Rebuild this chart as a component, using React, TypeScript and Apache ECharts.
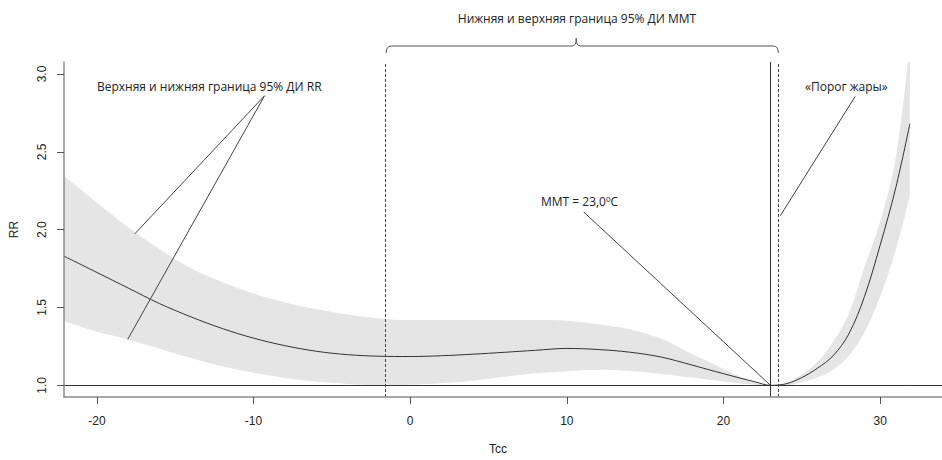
import React, { useEffect, useRef } from "react";
import * as echarts from "echarts";

const temps = [-22.1, -20, -18, -16, -14, -12, -10, -8, -6, -4, -2, 0, 2, 4, 6, 8, 10, 12, 14, 16, 18, 19, 20, 21, 22, 23, 24, 25, 26, 27, 28, 29, 30, 31, 31.9];
const rrValues = [1.83, 1.725, 1.625, 1.525, 1.44, 1.365, 1.303, 1.255, 1.219, 1.197, 1.187, 1.185, 1.19, 1.2, 1.212, 1.225, 1.237, 1.23, 1.213, 1.182, 1.13, 1.102, 1.075, 1.048, 1.023, 1.0, 1.01, 1.05, 1.11, 1.19, 1.33, 1.57, 1.9, 2.27, 2.68];
const rrUpper = [2.345, 2.175, 2.015, 1.875, 1.752, 1.663, 1.59, 1.534, 1.49, 1.455, 1.43, 1.42, 1.42, 1.42, 1.42, 1.42, 1.415, 1.392, 1.36, 1.3, 1.2, 1.155, 1.105, 1.058, 1.02, 1.0, 1.015, 1.07, 1.15, 1.28, 1.46, 1.76, 2.05, 2.46, 3.2];
const rrLower = [1.413, 1.345, 1.294, 1.235, 1.175, 1.123, 1.081, 1.047, 1.024, 1.009, 1.001, 1.004, 1.013, 1.03, 1.055, 1.077, 1.09, 1.1, 1.092, 1.073, 1.05, 1.038, 1.025, 1.013, 1.004, 1.0, 1.0, 1.02, 1.05, 1.1, 1.19, 1.34, 1.57, 1.87, 2.22];
const xTickValues = [-20, -10, 0, 10, 20, 30];
const yTickValues = [1.0, 1.5, 2.0, 2.5, 3.0];
const mmtValue = 23.0;
const mmtLowBound = -1.6;
const mmtHighBound = 23.5;
const refRR = 1.0;

const TEXT_FONT = "'Open Sans', 'Noto Sans', sans-serif";
const AXIS_FONT = "'Liberation Sans', Arial, sans-serif";

export default function App() {
  const ref = useRef<HTMLDivElement>(null);
  useEffect(() => {
    document.body.style.margin = "0";
    const chart = echarts.init(ref.current!, null, { renderer: "svg" });
    const option: any = {
      animation: false,
      grid: { left: 62, top: 62, right: 0, bottom: 61 },
      xAxis: {
        type: "value",
        min: -22.1,
        max: 33.95,
        z: 5,
        name: "Tcc",
        nameLocation: "middle",
        nameGap: 46,
        nameTextStyle: { fontFamily: AXIS_FONT, fontSize: 12, color: "#222", padding: [0, 10, 0, 0] },
        axisLine: { show: true, onZero: false, lineStyle: { color: "#8a8a8a", width: 1.5 } },
        axisTick: { show: true, customValues: xTickValues, length: 7, lineStyle: { color: "#555" } },
        axisLabel: { customValues: xTickValues, margin: 18, fontFamily: AXIS_FONT, fontSize: 12, color: "#222" },
        splitLine: { show: false },
      },
      yAxis: {
        type: "value",
        min: 0.925,
        max: 3.077,
        z: 5,
        name: "RR",
        nameLocation: "middle",
        nameRotate: 90,
        nameGap: 44,
        nameTextStyle: { fontFamily: AXIS_FONT, fontSize: 12, color: "#222" },
        axisLine: { show: true, onZero: false, lineStyle: { color: "#8a8a8a", width: 1.5 } },
        axisTick: { show: true, customValues: yTickValues, length: 7, lineStyle: { color: "#555" } },
        axisLabel: {
          customValues: yTickValues,
          rotate: 90,
          margin: 16,
          fontFamily: AXIS_FONT,
          fontSize: 12,
          color: "#222",
          formatter: (v: number) => v.toFixed(1),
        },
        splitLine: { show: false },
      },
      series: [
        {
          type: "line",
          data: temps.map((t, i) => [t, rrUpper[i]]),
          smooth: 0.35,
          showSymbol: false,
          lineStyle: { opacity: 0, width: 0 },
          areaStyle: { color: "#e5e5e5", opacity: 1, origin: "start" },
          silent: true,
          z: 1,
        },
        {
          type: "line",
          data: temps.map((t, i) => [t, rrLower[i]]),
          smooth: 0.35,
          showSymbol: false,
          lineStyle: { opacity: 0, width: 0 },
          areaStyle: { color: "#ffffff", opacity: 1, origin: "start" },
          silent: true,
          z: 1,
        },
        {
          type: "line",
          data: temps.map((t, i) => [t, rrValues[i]]),
          smooth: 0.35,
          showSymbol: false,
          lineStyle: { color: "#333", width: 1 },
          silent: true,
          z: 3,
          markLine: {
            silent: true,
            symbol: "none",
            label: { show: false },
            data: [
              { yAxis: refRR, lineStyle: { color: "#333", width: 1, type: "solid" } },
              { xAxis: mmtLowBound, lineStyle: { color: "#444", width: 1, type: [3, 2] } },
              { xAxis: mmtValue, lineStyle: { color: "#333", width: 1, type: "solid" } },
              { xAxis: mmtHighBound, lineStyle: { color: "#444", width: 1, type: [3, 2] } },
            ],
          },
        },
      ],
    };
    chart.setOption(option);

    const px = (p: number[]) => chart.convertToPixel({ gridIndex: 0 }, p) as number[];
    const lineEl = (a: number[], b: number[]) => {
      const pa = px(a);
      const pb = px(b);
      return {
        type: "line",
        silent: true,
        shape: { x1: pa[0], y1: pa[1], x2: pb[0], y2: pb[1] },
        style: { stroke: "#444", lineWidth: 1 },
        z: 10,
      };
    };
    const xl = px([mmtLowBound, refRR])[0] + 1;
    const xr = px([mmtHighBound, refRR])[0];
    const xm = px([10.6, refRR])[0];
    const by = 46;
    const bEnd = 53;
    const bStyle = { stroke: "#555", lineWidth: 1, fill: "none" };
    const textStyle = (text: string, x: number, y: number, align: string) => ({
      type: "text",
      silent: true,
      x,
      y,
      style: { text, fontFamily: TEXT_FONT, fontSize: 12, fill: "#222", align, verticalAlign: "middle" },
      z: 10,
    });

    chart.setOption({
      graphic: [
        lineEl([-9.3, 2.86], [-17.58, 1.973]),
        lineEl([-9.3, 2.86], [-18.03, 1.296]),
        lineEl([11.08, 2.113], [mmtValue, refRR]),
        lineEl([28.41, 2.856], [23.63, 2.09]),
        { type: "bezierCurve", silent: true, shape: { x1: xl, y1: bEnd, cpx1: xl, cpy1: by, x2: xl + 5, y2: by }, style: bStyle },
        { type: "line", silent: true, shape: { x1: xl + 5, y1: by, x2: xm - 4, y2: by }, style: bStyle },
        { type: "bezierCurve", silent: true, shape: { x1: xm - 4, y1: by, cpx1: xm, cpy1: by, x2: xm, y2: by - 8 }, style: bStyle },
        { type: "bezierCurve", silent: true, shape: { x1: xm, y1: by - 8, cpx1: xm, cpy1: by, x2: xm + 4, y2: by }, style: bStyle },
        { type: "line", silent: true, shape: { x1: xm + 4, y1: by, x2: xr - 5, y2: by }, style: bStyle },
        { type: "bezierCurve", silent: true, shape: { x1: xr - 5, y1: by, cpx1: xr, cpy1: by, x2: xr, y2: bEnd }, style: bStyle },
        textStyle("Нижняя и верхняя граница 95% ДИ ММТ", 577, 18, "center"),
        textStyle("Верхняя и нижняя граница 95% ДИ RR", 97, 86, "left"),
        textStyle("«Порог жары»", 805, 86, "left"),
        {
          type: "text",
          silent: true,
          x: 541,
          y: 201,
          style: {
            text: "ММТ = 23,0{sup|0}C",
            fontFamily: TEXT_FONT,
            fontSize: 12,
            fill: "#222",
            align: "left",
            verticalAlign: "middle",
            rich: { sup: { fontFamily: TEXT_FONT, fontSize: 8, fill: "#222", verticalAlign: "top", padding: [0, 0, 5, 0] } },
          },
          z: 10,
        },
      ],
    });

    return () => chart.dispose();
  }, []);
  return <div ref={ref} style={{ width: 942, height: 460 }} />;
}
